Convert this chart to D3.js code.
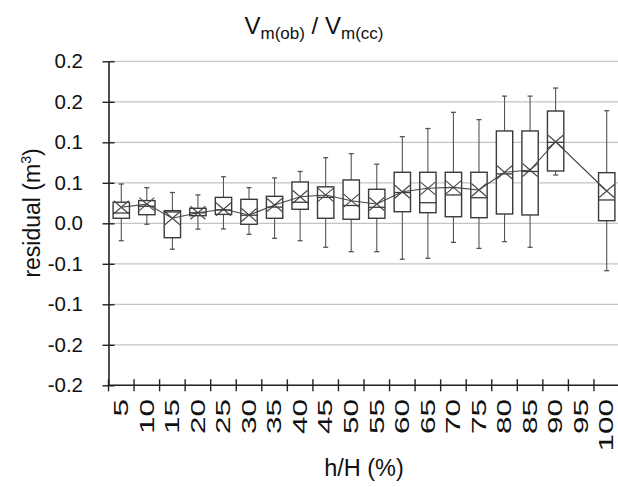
<!DOCTYPE html>
<html>
<head>
<meta charset="utf-8">
<script src="https://cdn.jsdelivr.net/npm/d3@7"></script>
<style>
  html, body { margin: 0; padding: 0; background: #fff; }
  svg { display: block; font-family: "Liberation Sans", Arial, sans-serif; }
</style>
</head>
<body>
<svg id="chart" width="618" height="487"></svg>
<script>
// Relative height classes h/H (%)
const categories = ["5","10","15","20","25","30","35","40","45","50","55","60","65","70","75","80","85","90","95","100"];

// Box-plot statistics of the residual (m³) per class; the 95 % class has no observations
const whiskerHigh = [0.0485, 0.044, 0.038, 0.035, 0.0575, 0.044, 0.056, 0.064, 0.081, 0.086, 0.073, 0.107, 0.117, 0.137, 0.128, 0.157, 0.157, 0.167, null, 0.139];
const quart3      = [0.026, 0.028, 0.0156, 0.0185, 0.032, 0.0296, 0.0333, 0.051, 0.045, 0.0535, 0.042, 0.063, 0.063, 0.063, 0.063, 0.114, 0.114, 0.1386, null, 0.0625];
const medians     = [0.0127, 0.021, 0.014, 0.013, 0.0165, 0.010, 0.020, 0.026, 0.032, 0.022, 0.0198, 0.038, 0.0254, 0.035, 0.0316, 0.061, 0.064, 0.10, null, 0.0288];
const quart1      = [0.0062, 0.0106, -0.0178, 0.0094, 0.011, -0.0012, 0.0062, 0.0173, 0.0062, 0.005, 0.0062, 0.0143, 0.0131, 0.0081, 0.0069, 0.0115, 0.0103, 0.0646, null, 0.0032];
const whiskerLow  = [-0.0215, -0.0012, -0.032, -0.0072, -0.007, -0.0136, -0.0185, -0.0215, -0.0296, -0.035, -0.035, -0.0444, -0.0432, -0.0235, -0.031, -0.0227, -0.0296, 0.0596, null, -0.0585];
const means       = [0.0198, 0.0237, 0.0062, 0.013, 0.0173, 0.0102, 0.0226, 0.0328, 0.035, 0.0279, 0.0238, 0.039, 0.0432, 0.0444, 0.0411, 0.063, 0.0658, 0.1007, null, 0.0399];

// Y-axis ticks and their (one-decimal) labels
const yTickValues = [-0.2, -0.15, -0.1, -0.05, 0, 0.05, 0.1, 0.15, 0.2];
const yTickLabels = ["-0.2", "-0.2", "-0.1", "-0.1", "0.0", "0.1", "0.1", "0.2", "0.2"];

const svg = d3.select("#chart");
const plotLeft = 108.5, plotRight = 619.5, plotTop = 61.3, plotBottom = 385.3;

const x = d3.scaleBand().domain(categories).range([plotLeft, plotRight]).padding(0);
const y = d3.scaleLinear().domain([-0.2, 0.2]).range([plotBottom, plotTop]);

const rows = categories.map((c, i) => ({
  cat: c, hi: whiskerHigh[i], q3: quart3[i], med: medians[i],
  q1: quart1[i], lo: whiskerLow[i], mean: means[i]
}));
const present = rows.filter(d => d.q3 != null);

// Horizontal gridlines
svg.append("g")
  .selectAll("line")
  .data(yTickValues)
  .join("line")
  .attr("x1", plotLeft).attr("x2", 618)
  .attr("y1", d => y(d)).attr("y2", d => y(d))
  .attr("stroke", "#c4c4c4").attr("stroke-width", 1.2);

// Y axis
const yAxis = svg.append("g")
  .attr("transform", `translate(${plotLeft},0)`)
  .call(d3.axisLeft(y).tickValues(yTickValues)
    .tickFormat((d, i) => yTickLabels[i])
    .tickSize(6).tickSizeOuter(0).tickPadding(19.5));
yAxis.select(".domain").attr("stroke", "#222").attr("stroke-width", 1.6);
yAxis.selectAll(".tick line").attr("x1", 6).attr("x2", -6).attr("stroke", "#222").attr("stroke-width", 1.4);
yAxis.selectAll(".tick text")
  .attr("font-size", 20.5).attr("fill", "#111")
  .attr("font-family", "Liberation Sans, Arial, sans-serif");

// X axis line with crossing ticks at class boundaries
const xAxisG = svg.append("g");
xAxisG.append("line")
  .attr("x1", plotLeft).attr("x2", 618)
  .attr("y1", y(-0.2)).attr("y2", y(-0.2))
  .attr("stroke", "#222").attr("stroke-width", 1.6);
xAxisG.selectAll("line.tick")
  .data(d3.range(categories.length + 1))
  .join("line")
  .attr("class", "tick")
  .attr("x1", i => plotLeft + i * x.bandwidth()).attr("x2", i => plotLeft + i * x.bandwidth())
  .attr("y1", y(-0.2) - 6).attr("y2", y(-0.2) + 6)
  .attr("stroke", "#222").attr("stroke-width", 1.4);

// Rotated category labels
xAxisG.selectAll("text")
  .data(categories)
  .join("text")
  .attr("transform", d => `translate(${x(d) + x.bandwidth() / 2},399) rotate(-90) scale(1.5,1)`)
  .attr("text-anchor", "end")
  .attr("dy", "0.32em")
  .attr("font-size", 21)
  .attr("fill", "#111")
  .text(d => d);

// Boxes
const bw = x.bandwidth() * 0.64;
const cap = 2.5;
const g = svg.append("g");
const box = g.selectAll("g.box").data(present).join("g").attr("class", "box")
  .attr("transform", d => `translate(${x(d.cat) + x.bandwidth() / 2},0)`);

box.append("line")
  .attr("x1", 0).attr("x2", 0)
  .attr("y1", d => y(d.hi)).attr("y2", d => y(d.q3))
  .attr("stroke", "#555").attr("stroke-width", 1.1);
box.append("line")
  .attr("x1", 0).attr("x2", 0)
  .attr("y1", d => y(d.q1)).attr("y2", d => y(d.lo))
  .attr("stroke", "#555").attr("stroke-width", 1.1);
box.append("line")
  .attr("x1", -cap).attr("x2", cap)
  .attr("y1", d => y(d.hi)).attr("y2", d => y(d.hi))
  .attr("stroke", "#555").attr("stroke-width", 1.3);
box.append("line")
  .attr("x1", -cap).attr("x2", cap)
  .attr("y1", d => y(d.lo)).attr("y2", d => y(d.lo))
  .attr("stroke", "#555").attr("stroke-width", 1.3);
box.append("rect")
  .attr("x", -bw / 2).attr("width", bw)
  .attr("y", d => y(d.q3)).attr("height", d => y(d.q1) - y(d.q3))
  .attr("fill", "#fff").attr("stroke", "#3a3a3a").attr("stroke-width", 1.4);
box.append("line")
  .attr("x1", -bw / 2).attr("x2", bw / 2)
  .attr("y1", d => y(d.med)).attr("y2", d => y(d.med))
  .attr("stroke", "#3a3a3a").attr("stroke-width", 1.3);

// Line joining the class means
svg.append("path")
  .datum(present)
  .attr("d", d3.line().x(d => x(d.cat) + x.bandwidth() / 2).y(d => y(d.mean)))
  .attr("fill", "none").attr("stroke", "#444").attr("stroke-width", 1.1);

// Mean markers (X)
const mx = 7.5, my = 6.5;
box.append("path")
  .attr("d", d => {
    const c = y(d.mean);
    return `M${-mx},${c - my}L${mx},${c + my}M${mx},${c - my}L${-mx},${c + my}`;
  })
  .attr("fill", "none").attr("stroke", "#444").attr("stroke-width", 1.1);

// Title
const title = svg.append("text")
  .attr("x", 314).attr("y", 34)
  .attr("text-anchor", "middle")
  .attr("font-size", 24).attr("fill", "#111");
title.append("tspan").text("V");
title.append("tspan").attr("font-size", 17).attr("dy", 5).text("m(ob)");
title.append("tspan").attr("dy", -5).text(" / V");
title.append("tspan").attr("font-size", 17).attr("dy", 5).text("m(cc)");

// Axis titles
const yTitle = svg.append("text")
  .attr("transform", "translate(40,213) rotate(-90)")
  .attr("text-anchor", "middle")
  .attr("font-size", 23).attr("fill", "#111");
yTitle.append("tspan").text("residual (m");
yTitle.append("tspan").attr("font-size", 14).attr("dy", -9).text("3");
yTitle.append("tspan").attr("dy", 9).text(")");

svg.append("text")
  .attr("x", 364).attr("y", 476)
  .attr("text-anchor", "middle")
  .attr("font-size", 23.5).attr("fill", "#111")
  .text("h/H (%)");
</script>
</body>
</html>
